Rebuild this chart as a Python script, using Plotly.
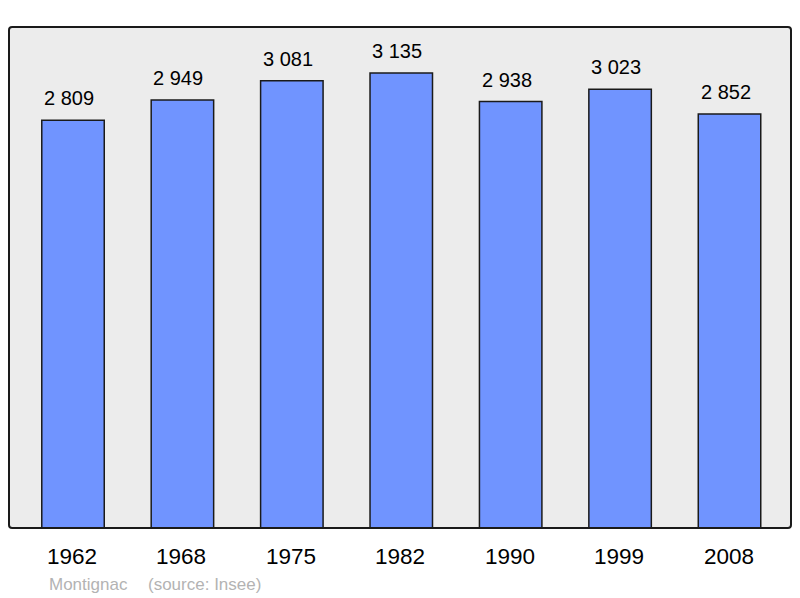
import plotly.graph_objects as go

years = ["1962", "1968", "1975", "1982", "1990", "1999", "2008"]
population = [2809, 2949, 3081, 3135, 2938, 3023, 2852]
value_labels = ["2 809", "2 949", "3 081", "3 135", "2 938", "3 023", "2 852"]
town = "Montignac"
source = "(source: Insee)"

# page has an 8px body margin; figure is sized to fit the 800x598 window
W, H = 792, 590
ml, mr, mt, mb = 1, 9, 19, 70
pw = W - ml - mr

fig = go.Figure()
fig.add_trace(go.Bar(
    x=years, y=population, width=0.571,
    marker=dict(color="#7094ff", line=dict(color="#1a1a1a", width=1.5)),
    hoverinfo="skip",
))

ann = []
for i, (yr, v, lab) in enumerate(zip(years, population, value_labels)):
    ann.append(dict(x=i, y=v, xref="x", yref="y", text=lab, showarrow=False,
                    yanchor="middle", yshift=22, xshift=-4,
                    font=dict(family="Liberation Sans, Arial", size=20, color="#000")))
    ann.append(dict(x=i, y=0, xref="x", yref="paper", text=yr, showarrow=False,
                    yanchor="middle", yshift=-28.5, xshift=-1,
                    font=dict(family="Liberation Sans, Arial", size=22.5, color="#000")))
ann.append(dict(x=(49 - 9) / pw, y=0, xref="paper", yref="paper", text=town,
                showarrow=False, xanchor="left", yanchor="middle", yshift=-56, xshift=-2,
                font=dict(family="Liberation Sans, Arial", size=17, color="#b3b3b3")))
ann.append(dict(x=(148 - 9) / pw, y=0, xref="paper", yref="paper", text=source,
                showarrow=False, xanchor="left", yanchor="middle", yshift=-56, xshift=-2,
                font=dict(family="Liberation Sans, Arial", size=17, color="#b3b3b3")))

fig.update_layout(
    width=W, height=H,
    margin=dict(l=ml, r=mr, t=mt, b=mb),
    paper_bgcolor="white", plot_bgcolor="rgba(0,0,0,0)",
    showlegend=False,
    annotations=ann,
    xaxis=dict(type="category", range=[-0.585, 6.562], showticklabels=False,
               showgrid=False, zeroline=False, ticks=""),
    yaxis=dict(range=[0, 3452], showticklabels=False, showgrid=False,
               zeroline=False, ticks=""),
    shapes=[
        dict(type="path", xref="paper", yref="paper",
             path="M 0.004 0 L 0.996 0 Q 1 0 1 0.006 L 1 0.994 Q 1 1 0.996 1 "
                  "L 0.004 1 Q 0 1 0 0.994 L 0 0.006 Q 0 0 0.004 0 Z",
             fillcolor="#ececec", line=dict(width=0), layer="below"),
        dict(type="path", xref="paper", yref="paper",
             path="M 0.004 0 L 0.996 0 Q 1 0 1 0.006 L 1 0.994 Q 1 1 0.996 1 "
                  "L 0.004 1 Q 0 1 0 0.994 L 0 0.006 Q 0 0 0.004 0 Z",
             line=dict(color="#1a1a1a", width=2), layer="above"),
    ],
)

fig.write_html("out.html")
